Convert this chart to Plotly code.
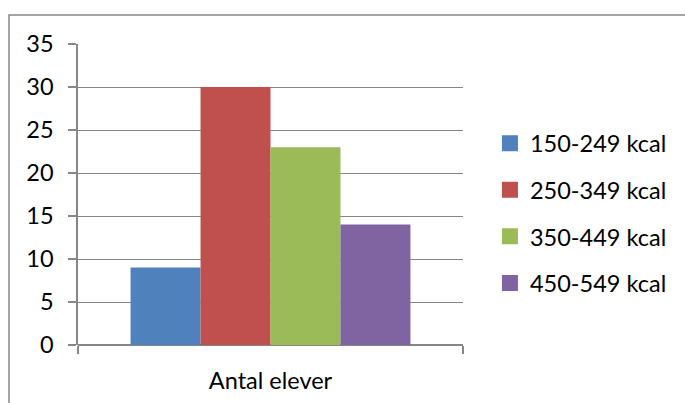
import plotly.graph_objects as go

# Number of pupils per calorie band
category = ["Antal elever"]
bands = ["150-249 kcal", "250-349 kcal", "350-449 kcal", "450-549 kcal"]
counts = [9, 30, 23, 14]
colors = ["#4F81BD", "#C0504D", "#9BBB59", "#8064A2"]

FONT = "Lato, Calibri, Carlito, sans-serif"
FS = 23.5
GRID = "#868686"

fig = go.Figure()
for name, val, col in zip(bands, counts, colors):
    fig.add_trace(go.Bar(
        x=category, y=[val], name=name,
        marker=dict(color=col, line=dict(width=0)),
        showlegend=False,
    ))

# Legend entries drawn as larger square swatches
for i, (name, col) in enumerate(zip(bands, colors)):
    fig.add_trace(go.Scatter(
        x=[None], y=[None], name=name, mode="markers",
        marker=dict(symbol="square", size=16, color=col),
        legendgroup=f"g{i}", showlegend=True,
    ))

fig.update_layout(
    width=685, height=403, autosize=False,
    margin=dict(l=78, r=222, t=44, b=58),
    paper_bgcolor="white", plot_bgcolor="white",
    barmode="group", bargap=0.273, bargroupgap=0,
    font=dict(family=FONT, size=FS, color="#000000"),
    showlegend=True,
    legend=dict(
        x=1.07, xanchor="left", y=0.437, yanchor="middle",
        traceorder="grouped", tracegroupgap=13,
        font=dict(family=FONT, size=FS, color="#000000"),
        itemwidth=30,
    ),
    xaxis=dict(
        type="category", showgrid=False, automargin=False,
        showline=False, zeroline=False,
        ticks="outside", ticklen=8, tickcolor=GRID, tickwidth=1.5,
        tickson="boundaries", ticklabelstandoff=19,
        tickfont=dict(family=FONT, size=FS, color="#000000"),
    ),
    yaxis=dict(
        range=[0, 35], dtick=5, tick0=0, automargin=False,
        showgrid=True, gridcolor=GRID, gridwidth=1.3,
        showline=True, linecolor=GRID, linewidth=1.5,
        zeroline=True, zerolinecolor=GRID, zerolinewidth=1.5,
        ticks="outside", ticklen=8, tickcolor=GRID, tickwidth=1.5,
        ticklabelstandoff=10,
        tickfont=dict(family=FONT, size=FS, color="#000000"),
    ),
    shapes=[
        # chart frame (left and top edges fall inside the page)
        dict(type="rect", xref="paper", yref="paper",
             x0=(9 - 78) / 385, x1=2.0, y0=-1.0, y1=(345 - 15) / 301,
             line=dict(color=GRID, width=1.5), fillcolor="rgba(0,0,0,0)",
             layer="below"),
    ],
)

fig.write_html("out.html")
